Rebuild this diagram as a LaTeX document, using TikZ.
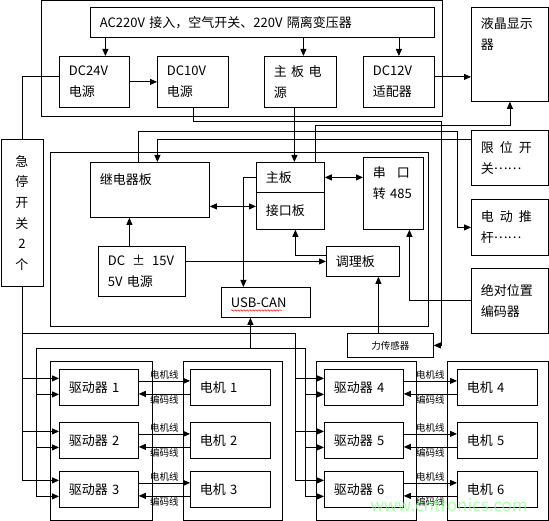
\documentclass[tikz,border=0pt]{standalone}
\usepackage{fontspec}
\setmainfont{Noto Sans CJK SC}
\usetikzlibrary{arrows.meta,decorations.pathmorphing}
\tikzset{
  box/.style 2 args={draw, anchor=north west, minimum width=#1, minimum height=#2,
    text width=#1-19pt, inner xsep=9.5pt, inner ysep=0pt, align=left,
    font=\fontsize{13}{21}\selectfont},
  arr/.style={-{Triangle[length=7pt,width=6pt]}},
  dbl/.style={{Triangle[length=7pt,width=6pt]}-{Triangle[length=7pt,width=6pt]}},
  wire/.style={font=\fontsize{9.5}{9.5}\selectfont, inner sep=1pt},
}
\begin{document}
\begin{tikzpicture}[x=1pt,y=-1pt,line width=0.8pt]
\useasboundingbox (0,0) rectangle (549,521);
\draw (41,0.5) rectangle (442,116);
\draw (50,152) rectangle (428,326);
\draw (50,361) rectangle (152,520);
\draw (183,361) rectangle (282,520);
\draw (316,361) rectangle (416,520);
\draw (447,361) rectangle (548.5,520);

\node[box={344pt}{30pt}] (ac) at (90,7) {AC220V 接入，空气开关、220V 隔离变压器};
\node[box={70pt}{51pt}] (dc24) at (59,56) {DC24V\\电源};
\node[box={71pt}{51pt}] (dc10) at (157,56) {DC10V\\电源};
\node[box={72pt}{51pt}] (mainpwr) at (264,56) {主 板 电\\源};
\node[box={71pt}{51pt}] (dc12) at (363,56) {DC12V\\适配器};
\node[box={77pt}{94pt}] (lcd) at (471,7) {液晶显示\\器\\~\\~};
\node[box={42pt}{147pt}, align=center, font=\fontsize{13}{20.6}\selectfont] (estop) at (0.5,139) {急\\停\\开\\关\\2\\个};
\node[box={119pt}{55pt}] (relay) at (90,162) {继电器板\\~};
\node[box={68pt}{30pt}] (mainboard) at (256,162) {主板};
\node[box={68pt}{37pt}] (ifboard) at (256,192) {接口板};
\node[box={60pt}{72pt}] (serial) at (363,157) {串\hspace{11pt}口\\转 485\\~};
\node[box={87pt}{50pt}] (psu) at (98,246) {\mbox{DC\hspace{7pt}±\hspace{7pt}15V}\\5V 电源};
\node[box={73pt}{30pt}] (cond) at (326,246) {调理板};
\node[box={89pt}{30pt}] (usbcan) at (221,287) {USB-CAN};
\node[box={86pt}{24pt}, align=center, font=\fontsize{9.5}{10}\selectfont] (force) at (347,333) {力传感器};
\node[box={77pt}{55pt}] (limit) at (471,130) {限\hspace{6pt}位\hspace{6pt}开\\关\raisebox{4pt}{……}};
\node[box={77pt}{56pt}] (push) at (471,199) {电\hspace{6pt}动\hspace{6pt}推\\杆\raisebox{4pt}{……}};
\node[box={77pt}{65pt}] (encoder) at (471,268) {绝对位置\\编码器};

\foreach \i/\dx/\mx/\y in {1/59/190/369, 2/59/190/422, 3/59/190/471, 4/324/457/369, 5/324/457/422, 6/324/457/471} {
  \node[box={79pt}{36pt}] (drv\i) at (\dx,\y) {驱动器 \i};
  \node[box={80pt}{36pt}] (motor\i) at (\mx,\y) {电机 \i};
  \path ([yshift=6.5pt]drv\i.east) coordinate (t);
  \draw[arr] (t) -- (t -| motor\i.west) node[wire, midway, above] {电机线};
  \path ([yshift=-6.5pt]motor\i.west) coordinate (t);
  \draw[arr] (t) -- (t -| drv\i.east) node[wire, midway, below] {编码线};
  \coordinate (up\i) at ([yshift=9pt]drv\i.west);
  \coordinate (lo\i) at ([yshift=-7pt]drv\i.west);
}

\path ([xshift=11pt]dc24.north) coordinate (t);
\draw[arr] (t |- ac.south) -- (t);
\path ([xshift=3pt]mainpwr.north) coordinate (t);
\draw[arr] (t |- ac.south) -- (t);
\draw[arr] (dc12.north |- ac.south) -- (dc12.north);
\draw[arr] (dc24.east) -- (dc10.west);
\path ([yshift=5pt]dc12.east) coordinate (t);
\draw[arr] (t) -- (t -| lcd.west);
\draw ([yshift=5pt]dc24.west) -| (estop.north);
\draw[arr] (dc10.south) -- ++(0,14) -| ([xshift=8pt]force.east) -- (force.east);
\path ([xshift=-6pt]mainpwr.south) coordinate (t);
\draw[arr] (t) -- (t |- mainboard.north);
\draw[arr] ([xshift=25pt]mainboard.north) -- ++(0,-37) -| (lcd.south);
\draw[arr] ([xshift=-11.5pt]relay.north) -- ++(0,-31) -| ([xshift=-14pt]push.west) -- (push.west);
\draw[arr] ([yshift=18.5pt]limit.west) -| ([xshift=7.5pt]relay.north);
\path ([yshift=4.5pt]ifboard.west) coordinate (t);
\draw[dbl] (t -| relay.east) -- (t);
\draw[dbl] (mainboard.east) -- (mainboard.east -| serial.west);
\draw[arr] (mainboard.west) -| ([xshift=-22.5pt]usbcan.north);
\path ([xshift=-12.5pt]psu.north) coordinate (t);
\draw[arr] (t) -- (t |- relay.south);
\draw[arr] (cond.west -| psu.east) -- (cond.west);
\draw[arr] ([yshift=6pt]cond.west) -| ([xshift=5pt]ifboard.south);
\draw[arr] (encoder.west) -| ([xshift=16pt]serial.south);
\path ([xshift=-12pt]force.north) coordinate (t);
\draw[arr] (t) -- (t |- cond.south);

\coordinate (stopbus) at (295,333);
\coordinate (canleft) at (36,348);
\coordinate (canbus) at (305,348);
\draw (estop.south) -- (estop.south |- up3);
\draw (estop.south |- stopbus) -- (stopbus) -- (stopbus |- up6);
\draw (canleft |- lo3) -- (canleft) -- (canbus) -- (canbus |- lo6);
\foreach \i in {1,2,3} {
  \draw[arr] (up\i -| estop.south) -- (up\i);
  \draw[arr] (lo\i -| canleft) -- (lo\i);
}
\foreach \i in {4,5,6} {
  \draw[arr] (up\i -| stopbus) -- (up\i);
  \draw[arr] (lo\i -| canbus) -- (lo\i);
}
\path ([xshift=-15.5pt]usbcan.south) coordinate (t);
\draw[arr] (t |- canbus) -- (t);

\draw[red, line width=0.5pt, decorate, decoration={snake, amplitude=0.7pt, segment length=3pt}] ([xshift=10pt,yshift=-8pt]usbcan.west) -- ++(51,0);
\node[text=green!45!white, opacity=0.7, font=\fontsize{17}{17}\selectfont] (mark) at (449,505) {www.cntronics.com};
\end{tikzpicture}
\end{document}
